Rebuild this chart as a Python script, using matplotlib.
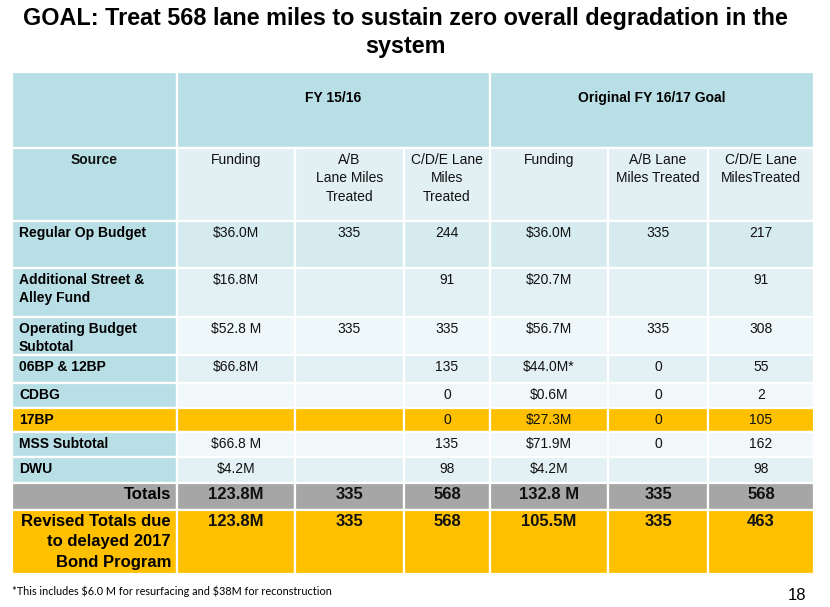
import matplotlib.pyplot as plt
from matplotlib.patches import Rectangle

plt.rcParams['font.family'] = ['Liberation Sans', 'DejaVu Sans']
plt.rcParams['text.parse_math'] = False

# Table content
title = "GOAL: Treat 568 lane miles to sustain zero overall degradation in the\nsystem"
group_labels = ["FY 15/16", "Original FY 16/17 Goal"]
col_headers = ["Source", "Funding", "A/B\nLane Miles\nTreated", "C/D/E Lane\nMiles\nTreated",
               "Funding", "A/B Lane\nMiles Treated", "C/D/E Lane\nMilesTreated"]
sources = ["Regular Op Budget", "Additional Street &\nAlley Fund", "Operating Budget\nSubtotal",
           "06BP & 12BP", "CDBG", "17BP", "MSS Subtotal", "DWU", "Totals",
           "Revised Totals due\nto delayed 2017\nBond Program"]
fy1516_funding = ["$36.0M", "$16.8M", "$52.8 M", "$66.8M", "", "", "$66.8 M", "$4.2M", "123.8M", "123.8M"]
fy1516_ab = ["335", "", "335", "", "", "", "", "", "335", "335"]
fy1516_cde = ["244", "91", "335", "135", "0", "0", "135", "98", "568", "568"]
fy1617_funding = ["$36.0M", "$20.7M", "$56.7M", "$44.0M*", "$0.6M", "$27.3M", "$71.9M", "$4.2M", "132.8 M", "105.5M"]
fy1617_ab = ["335", "", "335", "0", "0", "0", "0", "", "335", "335"]
fy1617_cde = ["217", "91", "308", "55", "2", "105", "162", "98", "568", "463"]
footnote = "*This includes $6.0 M for resurfacing and $38M for reconstruction"
page_number = "18"

# Layout (pixels)
col_edges = [12, 177, 295, 404, 490, 608, 708, 814]
row_edges = [72, 148, 221, 268, 317, 355, 383, 408, 432, 457, 483, 510, 574]

teal = "#b8dfe5"
band_colors = ["#d5ebef", "#e4f1f4", "#eef7f9", "#e4f1f4", "#f0f8fa", "#ffc000",
               "#f0f8fa", "#e4f1f4", "#a6a6a6", "#ffc000"]

fig = plt.figure(figsize=(8.3, 6.07), dpi=100)
ax = fig.add_axes([0, 0, 1, 1])
ax.set_xlim(0, 830)
ax.set_ylim(607, 0)
ax.axis('off')


def cell(x0, x1, y0, y1, color):
    ax.add_patch(Rectangle((x0, y0), x1 - x0, y1 - y0, facecolor=color,
                           edgecolor='white', linewidth=1.6))


# group header row
cell(col_edges[0], col_edges[1], row_edges[0], row_edges[1], teal)
cell(col_edges[1], col_edges[4], row_edges[0], row_edges[1], teal)
cell(col_edges[4], col_edges[7], row_edges[0], row_edges[1], teal)
ax.text((col_edges[1] + col_edges[4]) / 2, 98, group_labels[0], ha='center', va='center',
        fontsize=10, fontweight='bold')
ax.text((col_edges[4] + col_edges[7]) / 2, 98, group_labels[1], ha='center', va='center',
        fontsize=10, fontweight='bold')

# column header row
for j, h in enumerate(col_headers):
    x0, x1 = col_edges[j], col_edges[j + 1]
    cell(x0, x1, row_edges[1], row_edges[2], teal if j == 0 else "#e2f0f3")
    ax.text((x0 + x1) / 2, row_edges[1] + 5, h, ha='center', va='top', fontsize=10,
            fontweight='bold' if j == 0 else 'normal', linespacing=1.4, color='#111111')

# body rows
columns = [fy1516_funding, fy1516_ab, fy1516_cde, fy1617_funding, fy1617_ab, fy1617_cde]
for i, src in enumerate(sources):
    y0, y1 = row_edges[i + 2], row_edges[i + 3]
    special = src == "Totals" or src.startswith("Revised")
    label_bg = band_colors[i] if band_colors[i] in ("#ffc000", "#a6a6a6") else teal
    cell(col_edges[0], col_edges[1], y0, y1, label_bg)
    if special:
        ax.text(col_edges[1] - 6, y0 + 4, src, ha='right', va='top', fontsize=12,
                fontweight='bold', linespacing=1.45)
    else:
        ax.text(col_edges[0] + 7, y0 + 5, src, ha='left', va='top', fontsize=10,
                fontweight='bold', linespacing=1.35)
    for j, col in enumerate(columns):
        x0, x1 = col_edges[j + 1], col_edges[j + 2]
        cell(x0, x1, y0, y1, band_colors[i])
        ax.text((x0 + x1) / 2, y0 + (4 if special else 5), col[i], ha='center', va='top',
                fontsize=12 if special else 10, fontweight='bold' if special else 'normal',
                color='#111111')

ax.text(405, 7, title, ha='center', va='top', fontsize=16.8, fontweight='bold',
        linespacing=1.3)
ax.text(12, 591, footnote, ha='left', va='center', fontsize=7.8, family=['Lato', 'DejaVu Sans'])
ax.text(797, 596, page_number, ha='center', va='center', fontsize=12)

fig.savefig("out.png", dpi=100)
